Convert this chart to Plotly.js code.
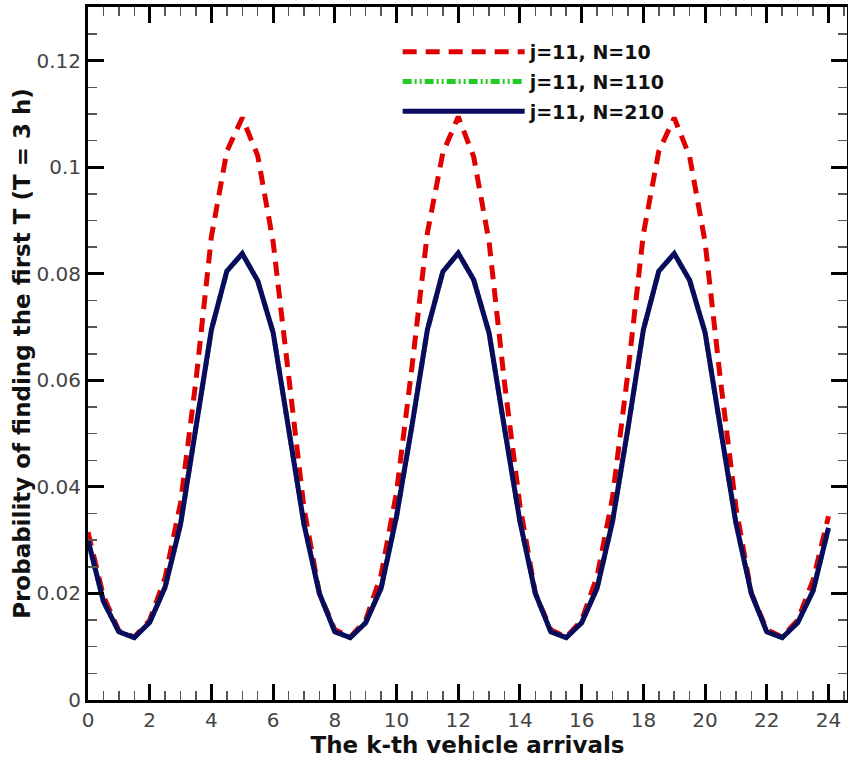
<!DOCTYPE html>
<html>
<head>
<meta charset="utf-8">
<script src="https://cdn.plot.ly/plotly-3.0.1.min.js"></script>
<style>body{margin:0;padding:0;background:#fff}#chart{width:848px;height:760px}</style>
</head>
<body>
<div id="chart"></div>
<script>
// k-th vehicle arrivals (x), sampled every 0.5
const kValues = [0,0.5,1,1.5,2,2.5,3,3.5,4,4.5,5,5.5,6,6.5,
  7,7.5,8,8.5,9,9.5,10,10.5,11,11.5,12,12.5,13,13.5,
  14,14.5,15,15.5,16,16.5,17,17.5,18,18.5,19,19.5,20,20.5,
  21,21.5,22,22.5,23,23.5,24];

// j=11, N=10
const probN10 = [0.0315,0.0195,0.0130,0.0118,0.0150,0.0230,0.0370,0.0600,0.0870,0.1030,0.1093,0.1022,0.0860,0.0600,
  0.0360,0.0200,0.0132,0.0118,0.0150,0.0235,0.0390,0.0625,0.0877,0.1027,0.1095,0.1020,0.0860,0.0595,
  0.0365,0.0200,0.0132,0.0118,0.0150,0.0232,0.0380,0.0615,0.0875,0.1030,0.1093,0.1020,0.0860,0.0600,
  0.0362,0.0200,0.0132,0.0118,0.0150,0.0225,0.0345];

// j=11, N=110
const probN110 = [0.0300,0.0185,0.0128,0.0117,0.0146,0.0212,0.0330,0.0510,0.0695,0.0805,0.0838,0.0787,0.0690,0.0510,
  0.0330,0.0200,0.0128,0.0117,0.0145,0.0210,0.0345,0.0515,0.0695,0.0804,0.0839,0.0789,0.0689,0.0510,
  0.0335,0.0200,0.0128,0.0117,0.0145,0.0210,0.0335,0.0510,0.0695,0.0805,0.0838,0.0788,0.0690,0.0510,
  0.0332,0.0200,0.0128,0.0117,0.0145,0.0205,0.0323];

// j=11, N=210
const probN210 = [0.0300,0.0185,0.0128,0.0117,0.0146,0.0212,0.0330,0.0510,0.0695,0.0805,0.0838,0.0787,0.0690,0.0510,
  0.0330,0.0200,0.0128,0.0117,0.0145,0.0210,0.0345,0.0515,0.0695,0.0804,0.0839,0.0789,0.0689,0.0510,
  0.0335,0.0200,0.0128,0.0117,0.0145,0.0210,0.0335,0.0510,0.0695,0.0805,0.0838,0.0788,0.0690,0.0510,
  0.0332,0.0200,0.0128,0.0117,0.0145,0.0205,0.0323];

const seriesNames = ["j=11, N=10","j=11, N=110","j=11, N=210"];

const fontFam = "DejaVu Sans, Verdana, sans-serif";

const traces = [
  {x:kValues, y:probN10, name:seriesNames[0], mode:"lines", legendgroup:"a",
   line:{color:"#e00000", width:5, dash:"14px,9px"}},
  {x:kValues, y:probN110, name:seriesNames[1], mode:"lines", legendgroup:"b",
   line:{color:"#22cc22", width:5, dash:"9px,3px,2px,3px,2px,3px"}},
  {x:kValues, y:probN210, name:seriesNames[2], mode:"lines", legendgroup:"c",
   line:{color:"#0a0a5e", width:5}}
];

const axisCommon = {
  showline:true, linecolor:"#000", linewidth:3, mirror:"allticks",
  ticks:"inside", ticklen:16, tickwidth:3, tickcolor:"#000",
  showgrid:false, zeroline:false,
  tickfont:{family:fontFam, size:20, color:"#444"}
};

const layout = {
  width:848, height:760,
  margin:{l:88, r:1, t:7, b:60},
  paper_bgcolor:"#fff", plot_bgcolor:"#fff",
  showlegend:true,
  legend:{x:0.408, y:0.9625, xanchor:"left", yanchor:"top", bgcolor:"rgba(0,0,0,0)",
    itemwidth:122, tracegroupgap:2,
    font:{family:fontFam, size:19, color:"#111", weight:"bold"}},
  xaxis:Object.assign({}, axisCommon, {
    range:[0,24.6], dtick:2, tick0:0,
    minor:{dtick:0.5, ticks:"inside", ticklen:9, tickwidth:1.5, tickcolor:"#555"},
    title:{text:"<b>The k-th vehicle arrivals</b>", font:{family:fontFam, size:23, color:"#111"}, standoff:2}
  }),
  yaxis:Object.assign({}, axisCommon, {
    range:[0,0.1301], dtick:0.02, tick0:0,
    minor:{dtick:0.005, ticks:"inside", ticklen:9, tickwidth:1.5, tickcolor:"#555"},
    title:{text:"<b>Probability of finding the first T (T = 3 h)</b>", font:{family:fontFam, size:23, color:"#111"}, standoff:0}
  })
};

Plotly.newPlot("chart", traces, layout, {displayModeBar:false, staticPlot:true});
</script>
</body>
</html>
